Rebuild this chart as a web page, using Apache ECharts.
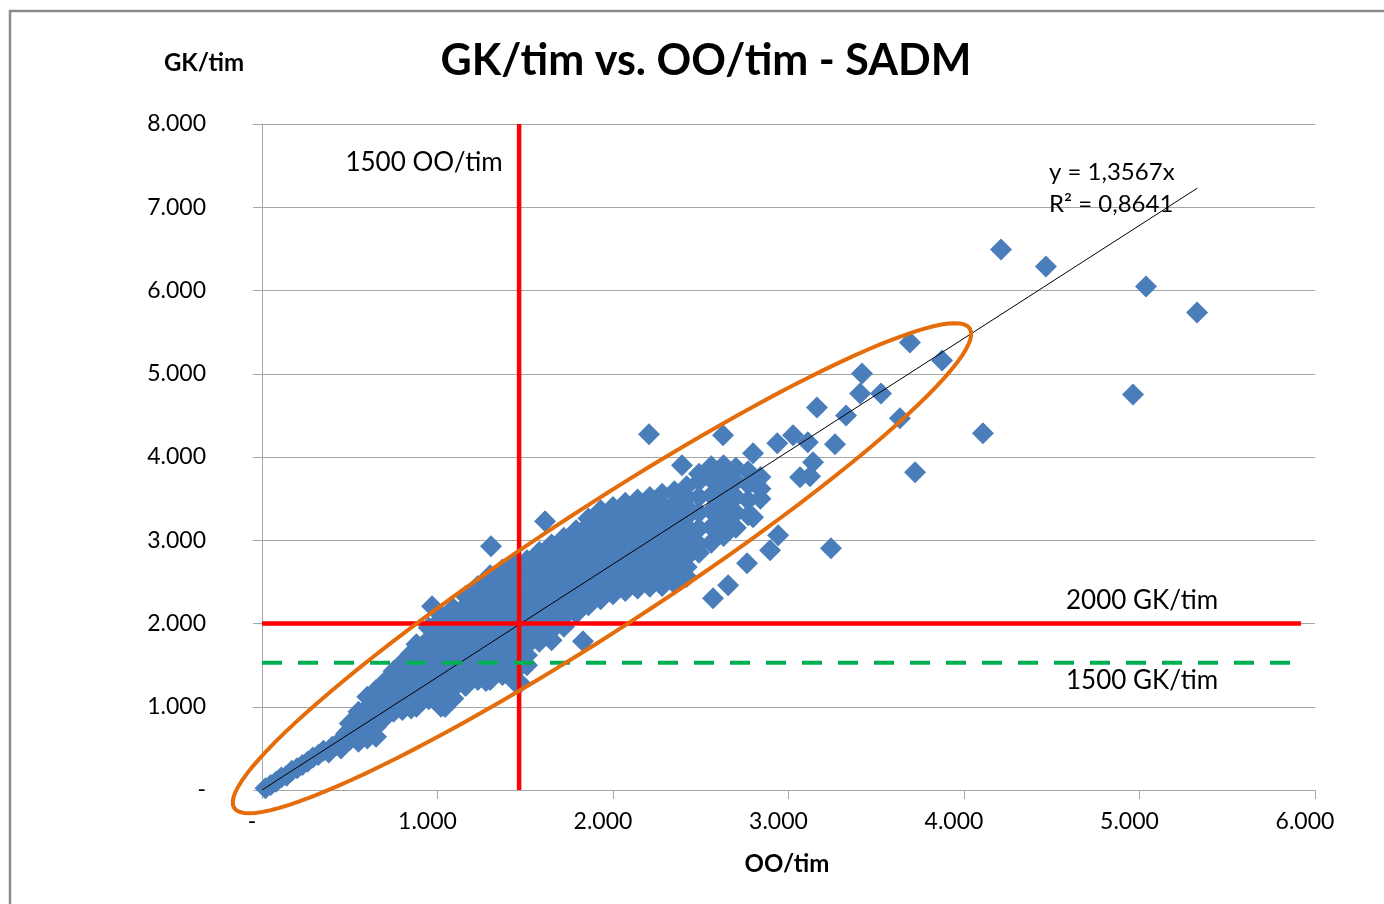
<!DOCTYPE html>
<html>
<head>
<meta charset="utf-8">
<title>GK/tim vs. OO/tim - SADM</title>
<script src="https://cdn.jsdelivr.net/npm/echarts@6/dist/echarts.min.js"></script>
<style>
  html, body { margin: 0; padding: 0; background: #fff; }
  #chart { width: 1384px; height: 904px; }
</style>
</head>
<body>
<div id="chart"></div>
<script>
// axis ranges
const xMax = 6000
const yMax = 8000
const tickStep = 1000

// thin start of the cloud, near the origin
const trailPoints = [
  [20, 20], [50, 60], [80, 100], [110, 150], [140, 170], [170, 230], [200, 260],
  [230, 300], [260, 340], [290, 390], [320, 420], [350, 470], [380, 450], [400, 520],
  [430, 560], [450, 500], [470, 620], [480, 680]
]

// main cloud, read column by column: [OO/tim, [GK/tim ...]]
const cloudColumns = [
  [500, [600, 720, 800]],
  [550, [580, 700, 820, 940]],
  [600, [620, 740, 860, 990, 1120]],
  [650, [640, 760, 880, 1000, 1120, 1200]],
  [700, [870, 990, 1110, 1230, 1300]],
  [750, [940, 1060, 1180, 1300, 1430]],
  [800, [960, 1080, 1200, 1320, 1440, 1530]],
  [850, [980, 1100, 1220, 1340, 1460, 1580, 1640]],
  [880, [1000, 1120, 1240, 1360, 1480, 1600, 1750]],
  [950, [1090, 1210, 1330, 1450, 1570, 1690, 1810, 1950]],
  [1020, [1000, 1120, 1240, 1360, 1480, 1600, 1720, 1840, 1960, 2050]],
  [1090, [1100, 1220, 1340, 1460, 1580, 1700, 1820, 1940, 2060, 2180]],
  [1160, [1250, 1370, 1490, 1610, 1730, 1850, 1970, 2090, 2210, 2330]],
  [1230, [1320, 1440, 1560, 1680, 1800, 1920, 2040, 2160, 2280, 2400, 2450]],
  [1300, [1320, 1440, 1560, 1680, 1800, 1920, 2040, 2160, 2280, 2400, 2520, 2580]],
  [1370, [1380, 1500, 1620, 1740, 1860, 1980, 2100, 2220, 2340, 2460, 2580, 2650]],
  [1440, [1300, 1420, 1540, 1660, 1780, 1900, 2020, 2140, 2260, 2380, 2500, 2620, 2720]],
  [1510, [1500, 1620, 1740, 1860, 1980, 2100, 2220, 2340, 2460, 2580, 2700, 2760]],
  [1580, [1780, 1900, 2020, 2140, 2260, 2380, 2500, 2620, 2740, 2860]],
  [1650, [1800, 1920, 2040, 2160, 2280, 2400, 2520, 2640, 2760, 2880, 2950]],
  [1720, [1960, 2080, 2200, 2320, 2440, 2560, 2680, 2800, 2920, 3030]],
  [1790, [2120, 2240, 2360, 2480, 2600, 2720, 2840, 2960, 3080, 3120]],
  [1860, [2220, 2340, 2460, 2580, 2700, 2820, 2940, 3060, 3180, 3260]],
  [1930, [2290, 2410, 2530, 2650, 2770, 2890, 3010, 3130, 3250, 3360]],
  [2000, [2350, 2470, 2590, 2710, 2830, 2950, 3070, 3190, 3310, 3400]],
  [2070, [2390, 2510, 2630, 2750, 2870, 2990, 3110, 3230, 3350, 3450]],
  [2140, [2420, 2540, 2660, 2780, 2900, 3020, 3140, 3260, 3380, 3490]],
  [2210, [2440, 2560, 2680, 2800, 2920, 3040, 3160, 3280, 3400, 3520]],
  [2280, [2450, 2570, 2690, 2810, 2930, 3050, 3170, 3290, 3410, 3560]],
  [2350, [2480, 2600, 2720, 2840, 2960, 3080, 3200, 3320, 3440, 3590]],
  [2420, [2560, 2680, 2800, 2920, 3040, 3160, 3280, 3400, 3520, 3650]],
  [2490, [2850, 2950, 3140, 3330, 3520, 3710, 3800]],
  [2560, [2970, 3160, 3350, 3540, 3730, 3890]],
  [2630, [3050, 3240, 3430, 3620, 3810, 3900]],
  [2700, [3150, 3330, 3520, 3710, 3870]],
  [2770, [3300, 3480, 3670, 3830]],
  [2840, [3500, 3620, 3760]]
]

// loose points around the cloud
const outlierPoints = [
  [969, 2208], [1030, 2080], [1305, 2928], [1613, 3228], [1829, 1788], [1276, 1308],
  [1043, 996], [1470, 1284], [2205, 4272], [2393, 3900], [2570, 2304], [2656, 2460],
  [2764, 2724], [2895, 2880], [2941, 3060], [2798, 3276], [2627, 4260], [2798, 4044],
  [2936, 4164], [3026, 4260], [3110, 4176], [3265, 4152], [3162, 4596], [3328, 4500],
  [3635, 4464], [3140, 3936], [3123, 3768], [3066, 3756], [3721, 3816], [3242, 2904],
  [3419, 5004], [3408, 4764], [3527, 4764], [3692, 5376], [3875, 5160], [4108, 4284],
  [4211, 6492], [4467, 6288], [5037, 6048], [5328, 5736], [4963, 4752]
]

// trendline y = 1,3567x
const trendLine = [[0, 0], [5330, 7230]]

// limit lines
const limitOO = 1465
const limitGK = 2000
const limitGKLow = 1530
const limitEnd = 5920

// centre of the hand drawn ellipse (data units)
const ellipseCenter = [1937, 2664]

const font = 'Lato, "DejaVu Sans", sans-serif'

const scatterData = trailPoints.concat(
  ...cloudColumns.map(([x, ys]) => ys.map(y => [x, y])),
  outlierPoints
)

function tickText(v) {
  if (v === 0) return '-'
  return (v / 1000).toFixed(3)
}

const chart = echarts.init(document.getElementById('chart'))

chart.setOption({
  animation: false,
  backgroundColor: '#ffffff',
  title: {
    text: 'GK/tim vs. OO/tim - SADM',
    left: 701,
    top: 35,
    textAlign: 'center',
    textStyle: { fontFamily: font, fontSize: 43, fontWeight: 'bold', color: '#000' }
  },
  grid: { left: 262, right: 69, top: 124, bottom: 114 },
  xAxis: {
    type: 'value',
    min: 0,
    max: xMax,
    interval: tickStep,
    axisLine: { show: true, lineStyle: { color: '#a6a6a6', width: 1 } },
    axisTick: { show: true, length: 9, lineStyle: { color: '#a6a6a6' } },
    splitLine: { show: false },
    axisLabel: {
      formatter: tickText,
      fontFamily: font,
      fontSize: 23,
      color: '#000',
      margin: 20,
      padding: [0, 20, 0, 0]
    }
  },
  yAxis: {
    type: 'value',
    min: 0,
    max: yMax,
    interval: tickStep,
    axisLine: { show: true, lineStyle: { color: '#a6a6a6', width: 1 } },
    axisTick: { show: true, length: 9, lineStyle: { color: '#a6a6a6' } },
    splitLine: { show: true, lineStyle: { color: '#a6a6a6', width: 1 } },
    axisLabel: {
      formatter: tickText,
      fontFamily: font,
      fontSize: 23,
      color: '#000',
      margin: 56
    }
  },
  series: [
    {
      name: 'GK/tim',
      type: 'scatter',
      symbol: 'diamond',
      symbolSize: 22,
      itemStyle: { color: '#4a7ebb', opacity: 1 },
      emphasis: { disabled: true },
      data: scatterData
    },
    {
      name: 'trend',
      type: 'line',
      symbol: 'none',
      silent: true,
      lineStyle: { color: '#000', width: 1 },
      data: trendLine
    },
    {
      name: '1500 OO/tim',
      type: 'line',
      symbol: 'none',
      silent: true,
      lineStyle: { color: '#ff0000', width: 4.5 },
      data: [[limitOO, 0], [limitOO, yMax]]
    },
    {
      name: '2000 GK/tim',
      type: 'line',
      symbol: 'none',
      silent: true,
      lineStyle: { color: '#ff0000', width: 4.5 },
      data: [[0, limitGK], [limitEnd, limitGK]]
    },
    {
      name: '1500 GK/tim',
      type: 'line',
      symbol: 'none',
      silent: true,
      lineStyle: { color: '#00b050', width: 4, type: [20, 16] },
      data: [[0, limitGKLow], [limitEnd, limitGKLow]]
    }
  ]
})

// ellipse outline round the cloud (pixel radii, tilted)
const c = chart.convertToPixel({ gridIndex: 0 }, ellipseCenter)
const ra = 439
const rb = 60.5
const tilt = 33.1 * Math.PI / 180
const ellipsePts = []
for (let i = 0; i < 120; i++) {
  const t = 2 * Math.PI * i / 120
  ellipsePts.push([
    c[0] + ra * Math.cos(t) * Math.cos(tilt) - rb * Math.sin(t) * Math.sin(tilt),
    c[1] - (ra * Math.cos(t) * Math.sin(tilt) + rb * Math.sin(t) * Math.cos(tilt))
  ])
}

function label(text, x, y, size) {
  return {
    type: 'text',
    x: x,
    y: y,
    silent: true,
    z: 110,
    style: {
      text: text,
      fontFamily: font,
      fontSize: size,
      fill: '#000',
      textAlign: 'center',
      textVerticalAlign: 'middle'
    }
  }
}

const yLbl = label('y = 1,3567x', 1049, 172, 24)
yLbl.style.textAlign = 'left'
const r2Lbl = label('R² = 0,8641', 1049, 204, 24)
r2Lbl.style.textAlign = 'left'
const yName = label('GK/tim', 204, 63, 24)
yName.style.fontWeight = 'bold'
const xName = label('OO/tim', 787, 864, 24)
xName.style.fontWeight = 'bold'

chart.setOption({
  graphic: [
    {
      type: 'rect',
      shape: { x: 10, y: 11, width: 1400, height: 1000 },
      style: { fill: 'none', stroke: '#8c8c8c', lineWidth: 2.5 },
      silent: true
    },
    {
      type: 'polygon',
      shape: { points: ellipsePts },
      style: { fill: 'none', stroke: '#e46c0a', lineWidth: 4 },
      silent: true,
      z: 100
    },
    label('1500 OO/tim', 424, 163, 26),
    label('2000 GK/tim', 1142, 601, 26),
    label('1500 GK/tim', 1142, 681, 26),
    yLbl,
    r2Lbl,
    yName,
    xName
  ]
})
</script>
</body>
</html>
